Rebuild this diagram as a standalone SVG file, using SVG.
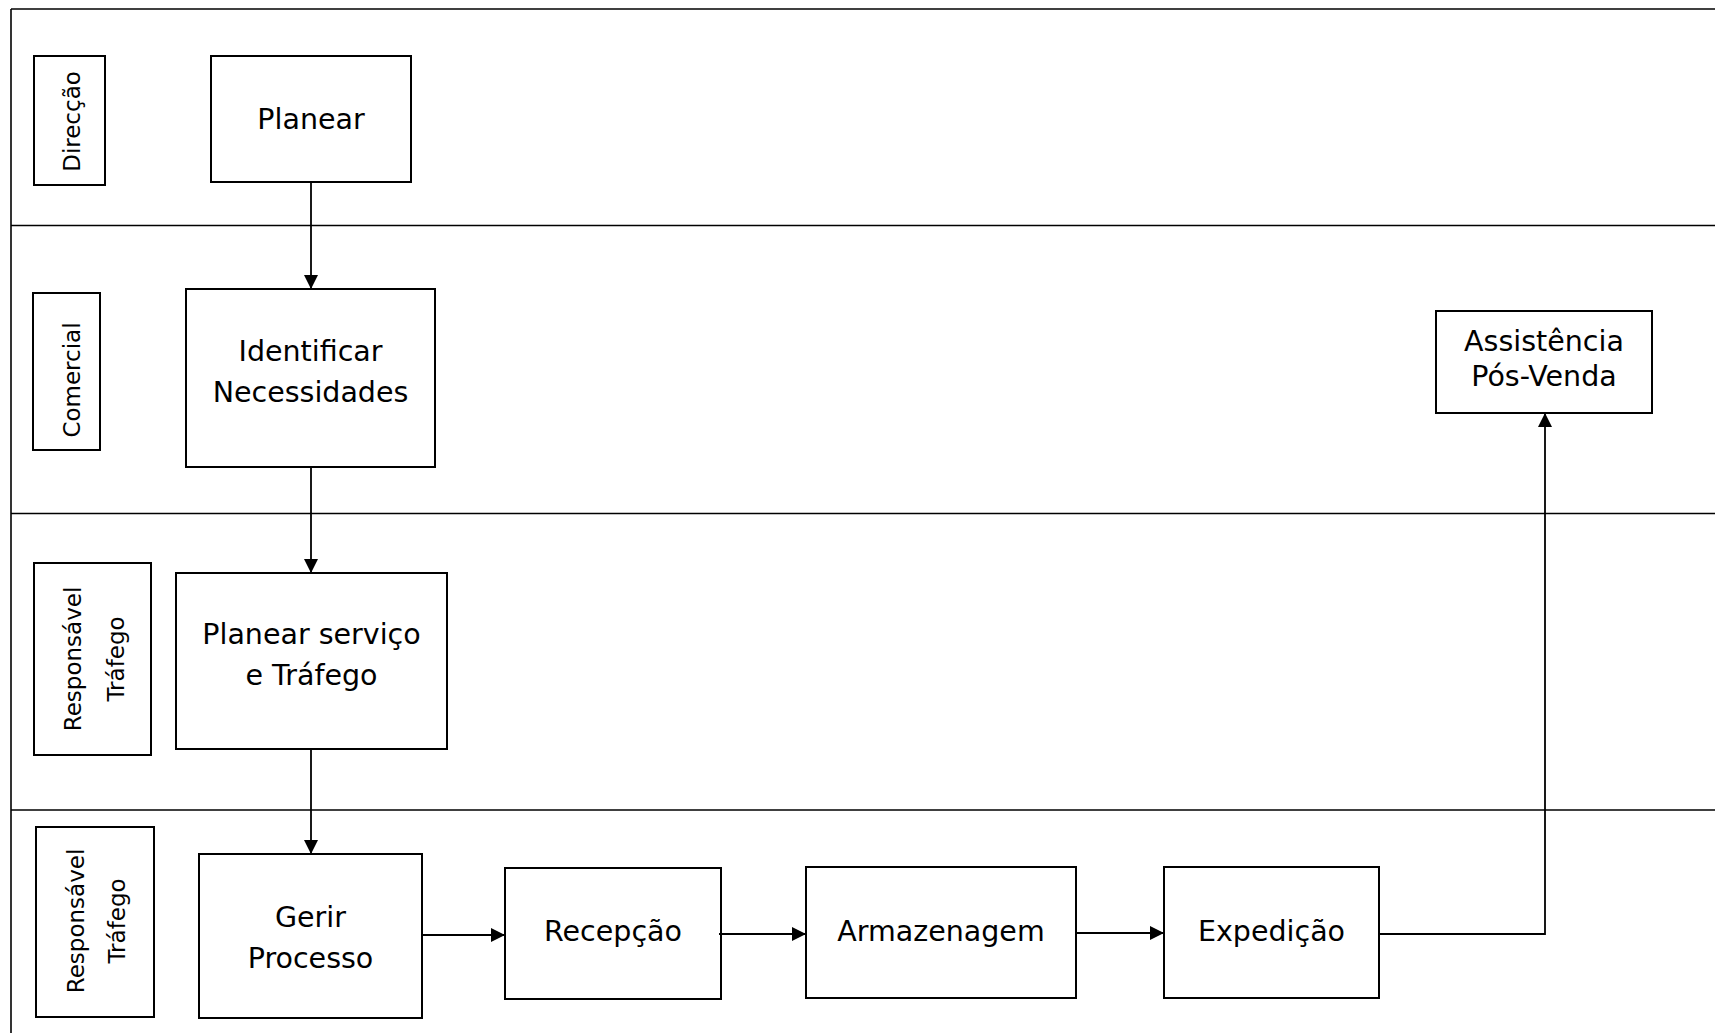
<svg xmlns="http://www.w3.org/2000/svg" width="1715" height="1033" viewBox="0 0 1715 1033">
  <style>
    .lane { stroke: #000; stroke-width: 1.6; fill: none; }
    .box { fill: #fff; stroke: #000; stroke-width: 2; }
    .lbl { font-family: "DejaVu Sans", Verdana, sans-serif; font-size: 23px; fill: #000; text-anchor: middle; }
    .txt { font-family: "DejaVu Sans", Verdana, sans-serif; font-size: 28.5px; fill: #000; text-anchor: middle; }
    .flow { stroke: #000; stroke-width: 1.8; fill: none; marker-end: url(#arrow); }
  </style>
  <defs>
    <marker id="arrow" markerUnits="userSpaceOnUse" markerWidth="14" markerHeight="14" refX="14" refY="7" orient="auto">
      <path d="M0,0 L14,7 L0,14 Z" fill="#000"/>
    </marker>
  </defs>
  <rect width="1715" height="1033" fill="#fff"/>

  <!-- swimlane frame -->
  <g id="lanes">
    <line class="lane" x1="11" y1="9" x2="1715" y2="9"/>
    <line class="lane" x1="11" y1="9" x2="11" y2="1033"/>
    <line class="lane" x1="11" y1="225.5" x2="1715" y2="225.5"/>
    <line class="lane" x1="11" y1="513.5" x2="1715" y2="513.5"/>
    <line class="lane" x1="11" y1="810" x2="1715" y2="810"/>
  </g>

  <!-- lane titles -->
  <g id="lane-direccao">
    <rect class="box" x="34" y="56" width="71" height="129"/>
    <text class="lbl" transform="translate(80,121.5) rotate(-90)">Direcção</text>
  </g>
  <g id="lane-comercial">
    <rect class="box" x="33" y="293" width="67" height="157"/>
    <text class="lbl" transform="translate(80,380) rotate(-90)">Comercial</text>
  </g>
  <g id="lane-responsavel-1">
    <rect class="box" x="34" y="563" width="117" height="192"/>
    <text class="lbl" transform="translate(81,659) rotate(-90)">Responsável</text>
    <text class="lbl" transform="translate(124,659) rotate(-90)">Tráfego</text>
  </g>
  <g id="lane-responsavel-2">
    <rect class="box" x="36" y="827" width="118" height="190"/>
    <text class="lbl" transform="translate(84,921) rotate(-90)">Responsável</text>
    <text class="lbl" transform="translate(125,921) rotate(-90)">Tráfego</text>
  </g>

  <!-- process steps -->
  <g id="planear">
    <rect class="box" x="211" y="56" width="200" height="126"/>
    <text class="txt" x="311" y="129">Planear</text>
  </g>
  <g id="identificar">
    <rect class="box" x="186" y="289" width="249" height="178"/>
    <text class="txt" x="310.5" y="361">Identificar</text>
    <text class="txt" x="310.5" y="402">Necessidades</text>
  </g>
  <g id="planear-servico">
    <rect class="box" x="176" y="573" width="271" height="176"/>
    <text class="txt" x="311.5" y="644">Planear serviço</text>
    <text class="txt" x="311.5" y="685">e Tráfego</text>
  </g>
  <g id="gerir">
    <rect class="box" x="199" y="854" width="223" height="164"/>
    <text class="txt" x="310.5" y="927">Gerir</text>
    <text class="txt" x="310.5" y="968">Processo</text>
  </g>
  <g id="recepcao">
    <rect class="box" x="505" y="868" width="216" height="131"/>
    <text class="txt" x="613" y="941">Recepção</text>
  </g>
  <g id="armazenagem">
    <rect class="box" x="806" y="867" width="270" height="131"/>
    <text class="txt" x="941" y="941">Armazenagem</text>
  </g>
  <g id="expedicao">
    <rect class="box" x="1164" y="867" width="215" height="131"/>
    <text class="txt" x="1271.5" y="941">Expedição</text>
  </g>
  <g id="assistencia">
    <rect class="box" x="1436" y="311" width="216" height="102"/>
    <text class="txt" x="1544" y="351">Assistência</text>
    <text class="txt" x="1544" y="386">Pós-Venda</text>
  </g>

  <!-- connectors -->
  <g id="connectors">
    <line class="flow" x1="311" y1="182" x2="311" y2="289"/>
    <line class="flow" x1="311" y1="467" x2="311" y2="573"/>
    <line class="flow" x1="311" y1="749" x2="311" y2="854"/>
    <line class="flow" x1="422" y1="935" x2="505" y2="935"/>
    <line class="flow" x1="719" y1="934" x2="806" y2="934"/>
    <line class="flow" x1="1076" y1="933" x2="1164" y2="933"/>
    <polyline class="flow" points="1379,934 1545,934 1545,413"/>
  </g>
</svg>
